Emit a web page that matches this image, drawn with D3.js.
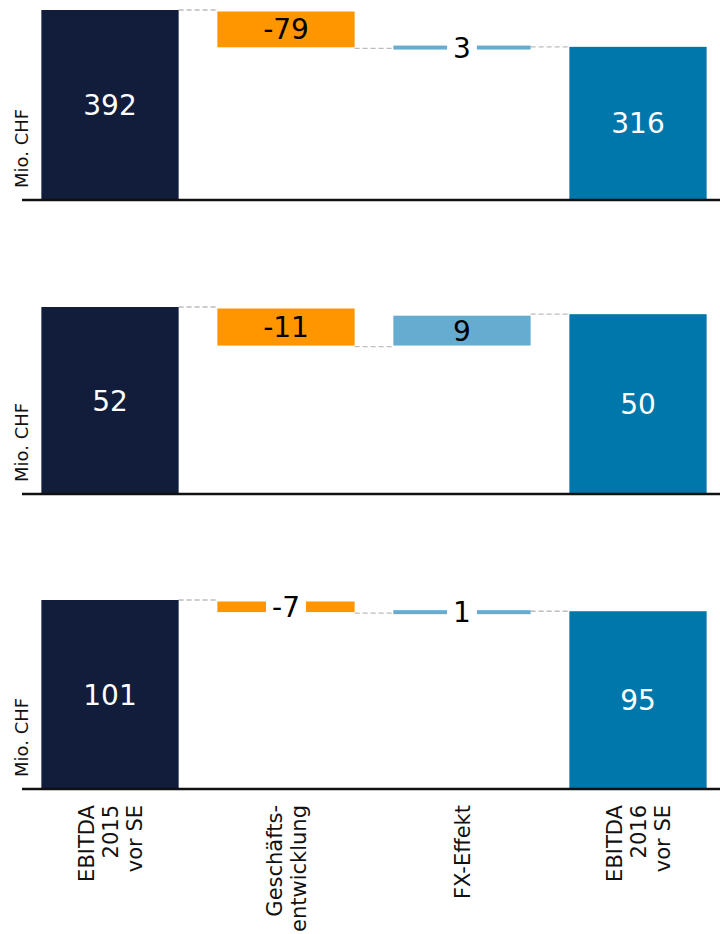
<!DOCTYPE html>
<html>
<head>
<meta charset="utf-8">
<script src="https://cdn.jsdelivr.net/npm/d3@7"></script>
<style>
  body { margin: 0; background: #fff; }
  svg { display: block; }
</style>
</head>
<body>
<script>
"use strict";
(function(){
  // data, one value per panel (top to bottom)
  const categories = [["EBITDA", "2015", "vor SE"], ["Geschäfts-", "entwicklung"], ["FX-Effekt"], ["EBITDA", "2016", "vor SE"]]
  const startValues = [392, 52, 101]
  const businessValues = [-79, -11, -7]
  const fxValues = [3, 9, 1]
  const endValues = [316, 50, 95]
  const unitLabel = "Mio. CHF"

  let m = {
    width: 720,
    height: 934
  }
  // baseline / top of the tallest bar for each panel
  const panels = [{base: 200, top: 10}, {base: 494, top: 307}, {base: 789, top: 600}]
  const colors = ["#111d3b", "#ff9600", "#66acd0", "#0077ab"]
  const font = "'DejaVu Sans', Verdana, sans-serif"

  const svg = d3.select("body").append("svg")
      .attr("width", m.width)
      .attr("height", m.height)

  let x = d3.scaleBand()
      .domain(d3.range(categories.length))
      .range([22, 726])
      .paddingInner(0.22)
      .paddingOuter(0.11)
  const bw = x.bandwidth()

  panels.forEach(function(p, i){
    let s = startValues[i], b = businessValues[i], f = fxValues[i], e = endValues[i]
    let steps = [
      {kind: "total", from: 0, to: s, label: String(s)},
      {kind: "delta", from: s, to: s + b, label: String(b)},
      {kind: "delta", from: s + b, to: s + b + f, label: String(f)},
      {kind: "total", from: 0, to: e, label: String(e)}
    ]
    let y = d3.scaleLinear()
        .domain([0, d3.max(steps, d => Math.max(d.from, d.to))])
        .range([p.base, p.top])

    const g = svg.append("g")

    // dashed connectors between the bars
    g.selectAll(".conn")
      .data(steps.slice(0, 3))
      .enter()
      .append("line")
        .attr("x1", (d, k) => x(k) + bw)
        .attr("x2", (d, k) => x(k + 1))
        .attr("y1", d => y(d.to))
        .attr("y2", d => y(d.to))
        .attr("stroke", "#bcbcbc")
        .attr("stroke-width", 1.3)
        .attr("stroke-dasharray", "5,3")

    steps.forEach(function(d, k){
      let y0 = Math.min(y(d.from), y(d.to))
      let y1 = Math.max(y(d.from), y(d.to))
      if (d.kind == "delta") {
        if (y1 - y0 < 4) {
          let mid = (y0 + y1) / 2
          y0 = mid - 2; y1 = mid + 2
        } else {
          y0 += 1.5; y1 -= 1
        }
      }
      g.append("rect")
        .attr("x", x(k))
        .attr("y", y0)
        .attr("width", bw)
        .attr("height", y1 - y0)
        .attr("fill", colors[k])

      let cx = x(k) + bw / 2, cy = (y0 + y1) / 2
      let t = g.append("text")
        .attr("x", cx)
        .attr("y", cy)
        .attr("dy", "0.36em")
        .attr("text-anchor", "middle")
        .attr("font-family", font)
        .attr("font-size", "28px")
        .attr("fill", d.kind == "total" ? "#fff" : "#000")
        .text(d.label)
      // small bars: the label sits on a white patch over the bar
      if (d.kind == "delta" && y1 - y0 < 22) {
        let w = t.node().getComputedTextLength() + 12
        g.insert("rect", function(){ return t.node() })
          .attr("x", cx - w / 2)
          .attr("y", cy - 14)
          .attr("width", w)
          .attr("height", 28)
          .attr("fill", "#fff")
      }
    })

    // baseline
    g.append("line")
      .attr("x1", 22)
      .attr("x2", 720)
      .attr("y1", p.base)
      .attr("y2", p.base)
      .attr("stroke", "#111")
      .attr("stroke-width", 2.5)

    g.append("text")
      .attr("transform", "translate(28," + (p.base - 12) + ") rotate(-90)")
      .attr("text-anchor", "start")
      .attr("font-family", font)
      .attr("font-size", "18px")
      .attr("fill", "#111")
      .text(unitLabel)
  })

  // category labels under the last panel
  const lh = 24
  svg.selectAll(".cat")
    .data(categories)
    .enter()
    .append("text")
      .attr("transform", (d, k) => "translate(" + (x(k) + bw / 2) + ",805) rotate(-90)")
      .attr("text-anchor", "end")
      .attr("font-family", font)
      .attr("font-size", "21px")
      .attr("fill", "#111")
      .each(function(d){
        let t = d3.select(this)
        d.forEach(function(line, j){
          t.append("tspan")
            .attr("x", 0)
            .attr("y", (j - (d.length - 1) / 2) * lh + 8)
            .text(line)
        })
      })
})();
</script>
</body>
</html>
